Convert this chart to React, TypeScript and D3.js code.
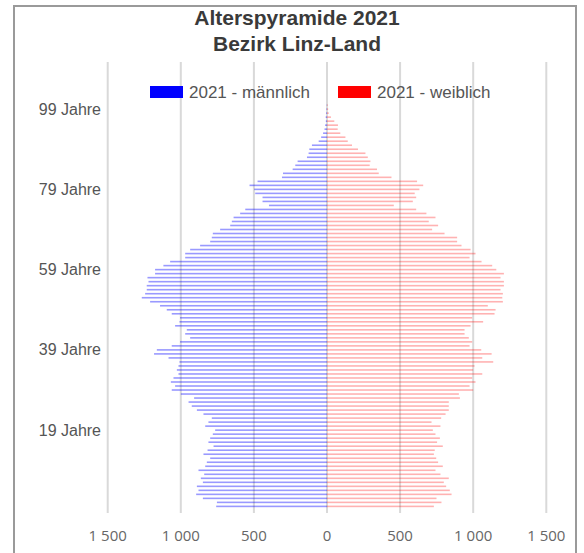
import React from 'react';
import * as d3 from 'd3';

const W = 584;
const H = 553;

// ages 0..100, index = age
const ages = d3.range(0, 101);

const male = [
  758, 753, 849, 895, 879, 890, 849, 863, 840, 879,
  833, 822, 799, 845, 817, 776, 811, 799, 781, 765,
  833, 811, 788, 845, 890, 925, 947, 909, 1000, 1062,
  1039, 1068, 1050, 1016, 1027, 1016, 1009, 1084, 1183, 1164,
  1062, 1005, 936, 970, 959, 1039, 1009, 1005, 1062, 1096,
  1142, 1210, 1267, 1244, 1233, 1233, 1221, 1228, 1176, 1176,
  1119, 1073, 970, 970, 936, 868, 799, 788, 781, 731,
  662, 651, 639, 594, 559, 397, 441, 441, 491, 498,
  530, 475, 308, 301, 235, 217, 201, 137, 126, 121,
  103, 57, 40, 27, 17, 13, 8, 9, 6, 4,
  2,
];

const female = [
  731, 783, 749, 852, 840, 815, 799, 833, 776, 742,
  792, 760, 747, 731, 737, 792, 753, 772, 742, 724,
  776, 715, 781, 811, 833, 833, 833, 909, 902, 1000,
  975, 1016, 993, 1062, 1000, 1009, 1137, 1062, 1126, 1055,
  975, 993, 970, 941, 941, 982, 1068, 993, 1146, 1153,
  1100, 1203, 1199, 1203, 1187, 1210, 1210, 1187, 1210, 1158,
  1130, 1057, 975, 1016, 982, 920, 890, 890, 804, 719,
  760, 696, 742, 680, 610, 457, 587, 610, 600, 632,
  658, 616, 441, 354, 342, 292, 297, 279, 263, 212,
  171, 142, 126, 91, 73, 75, 50, 27, 12, 8,
  5,
];

const xTicks = [-1500, -1000, -500, 0, 500, 1000, 1500];
const ageTicks = [99, 79, 59, 39, 19];
const titleLines = ['Alterspyramide 2021', 'Bezirk Linz-Land'];
const seriesNames = ['2021 - männlich', '2021 - weiblich'];
const seriesColors = ['#0000ff', '#ff0000'];

const fmt = (v: number) => d3.format(',')(Math.abs(v)).replace(/,/g, ' ');

export default function App() {
  const x = d3.scaleLinear().domain([-1500, 1500]).range([107.7, 546.3]);
  const y = d3
    .scaleBand<number>()
    .domain([...ages].reverse())
    .range([103.1, 508.4])
    .paddingInner(0.6)
    .paddingOuter(0.3);
  const yc = (a: number) => (y(a) as number) + y.bandwidth() / 2;

  return (
    <svg
      width={W}
      height={H}
      style={{ position: 'absolute', left: 0, top: 0, background: '#fff' }}
    >
      {/* frame */}
      <rect x={14} y={6} width={562} height={560} fill="none" stroke="#9a9a9a" strokeWidth={2} />

      {/* title */}
      {titleLines.map((t, i) => (
        <text
          key={t}
          x={297}
          y={18 + i * 26}
          dy="0.35em"
          textAnchor="middle"
          fontFamily="'Liberation Sans', Arial, sans-serif"
          fontWeight="bold"
          fontSize={21}
          fill="#3a3a3a"
        >
          {t}
        </text>
      ))}

      {/* grid */}
      {xTicks.map((t) => (
        <line key={t} x1={x(t)} x2={x(t)} y1={62} y2={513} stroke="#d9d9d9" strokeWidth={2} />
      ))}

      {/* bars */}
      {ages.map((a) => (
        <g key={a}>
          <rect
            x={x(-male[a])}
            y={y(a)}
            width={x(0) - x(-male[a])}
            height={y.bandwidth()}
            fill={seriesColors[0]}
            fillOpacity={0.4}
          />
          <rect
            x={x(0)}
            y={y(a)}
            width={x(female[a]) - x(0)}
            height={y.bandwidth()}
            fill={seriesColors[1]}
            fillOpacity={0.3}
          />
        </g>
      ))}

      {/* legend */}
      {seriesNames.map((s, i) => (
        <g key={s} transform={`translate(${150 + i * 188},92)`}>
          <rect x={0} y={-6} width={33} height={12} fill={seriesColors[i]} />
          <text
            x={39}
            dy="0.35em"
            fontFamily="'Liberation Sans', Arial, sans-serif"
            fontSize={17}
            fill="#555"
          >
            {s}
          </text>
        </g>
      ))}

      {/* age labels */}
      {ageTicks.map((a) => (
        <text
          key={a}
          x={101}
          y={yc(a)}
          dy="0.35em"
          textAnchor="end"
          fontFamily="'Liberation Sans', Arial, sans-serif"
          fontSize={16}
          fill="#555"
        >
          {a} Jahre
        </text>
      ))}

      {/* x tick labels */}
      {xTicks.map((t) => (
        <text
          key={t}
          x={x(t)}
          y={536}
          dy="0.35em"
          textAnchor="middle"
          fontFamily="'Open Sans', 'Noto Sans', sans-serif"
          fontSize={15}
          fill="#666"
        >
          {fmt(t)}
        </text>
      ))}
    </svg>
  );
}
